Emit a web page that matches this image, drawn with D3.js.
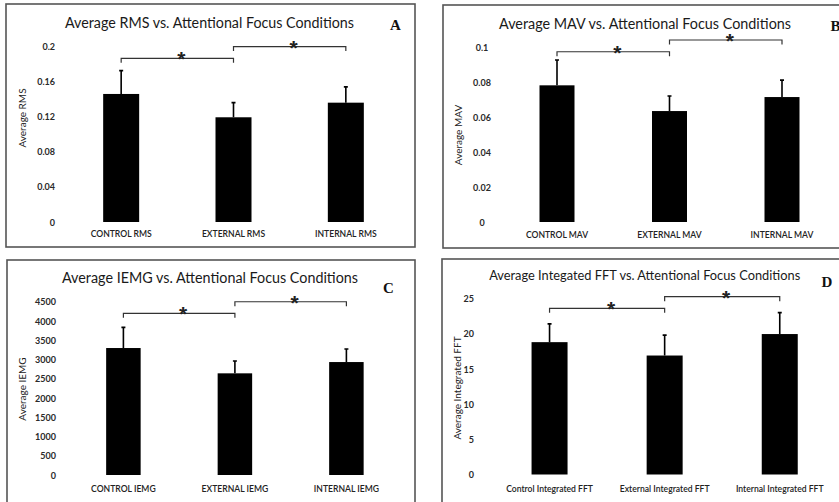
<!DOCTYPE html>
<html>
<head>
<meta charset="utf-8">
<script src="https://cdn.jsdelivr.net/npm/d3@7"></script>
<style>
  html, body { margin: 0; padding: 0; background: #fff; }
  svg { display: block; }
  text { font-family: Lato, "Open Sans", sans-serif; }
</style>
</head>
<body>
<svg id="chart" width="839" height="502"></svg>
<script>
// Data
const rmsLabels = ["CONTROL RMS", "EXTERNAL RMS", "INTERNAL RMS"];
const rmsMeans = [0.1455, 0.119, 0.1356];
const rmsErrors = [0.0265, 0.0166, 0.018];
const rmsTicks = [0, 0.04, 0.08, 0.12, 0.16, 0.2];
const rmsSigLevels = [0.186, 0.1993];

const mavLabels = ["CONTROL MAV", "EXTERNAL MAV", "INTERNAL MAV"];
const mavMeans = [0.0781, 0.0634, 0.0714];
const mavErrors = [0.0145, 0.0086, 0.0097];
const mavTicks = [0, 0.02, 0.04, 0.06, 0.08, 0.1];
const mavSigLevels = [0.0973, 0.104];

const iemgLabels = ["CONTROL IEMG", "EXTERNAL IEMG", "INTERNAL IEMG"];
const iemgMeans = [3297, 2640, 2933];
const iemgErrors = [537, 320, 338];
const iemgTicks = [0, 500, 1000, 1500, 2000, 2500, 3000, 3500, 4000, 4500];
const iemgSigLevels = [4198, 4499];

const fftLabels = ["Control Integrated FFT", "External Integrated FFT", "Internal Integrated FFT"];
const fftMeans = [18.8, 16.9, 19.95];
const fftErrors = [2.6, 2.9, 3.05];
const fftTicks = [0, 5, 10, 15, 20, 25];
const fftSigLevels = [23.6, 25.26];

// Significance brackets: pairs of bar indices
const sigPairs = [[0, 1], [1, 2]];

const panels = [
  {
    letter: "A", title: "Average RMS vs. Attentional Focus Conditions", yTitle: "Average RMS",
    labels: rmsLabels, means: rmsMeans, errors: rmsErrors, ticks: rmsTicks, sig: rmsSigLevels,
    layout: {
      frame: [6, 4, 409, 243], titleXY: [209.5, 28], titleLen: 289, titleSize: 15.5, letterXY: [390, 30],
      xRange: [65, 402], yRange: [222, 46], barW: 36, tickX: 55, tickAnchor: "end",
      yTitleXY: [22, 118], xLabelY: 237
    }
  },
  {
    letter: "B", title: "Average MAV vs. Attentional Focus Conditions", yTitle: "Average MAV",
    labels: mavLabels, means: mavMeans, errors: mavErrors, ticks: mavTicks, sig: mavSigLevels,
    layout: {
      frame: [443, 5, 410, 243], titleXY: [645, 28.5], titleLen: 292, titleSize: 15.5, letterXY: [830.5, 31],
      xRange: [500.75, 838.25], yRange: [222, 47], barW: 35, tickX: 482, tickAnchor: "middle",
      yTitleXY: [458, 135], xLabelY: 237.5
    }
  },
  {
    letter: "C", title: "Average IEMG vs. Attentional Focus Conditions", yTitle: "Average IEMG",
    labels: iemgLabels, means: iemgMeans, errors: iemgErrors, ticks: iemgTicks, sig: iemgSigLevels,
    layout: {
      frame: [7, 260, 408, 260], titleXY: [210, 283], titleLen: 296, titleSize: 15.5, letterXY: [383, 292.5],
      xRange: [67.65, 402.15], yRange: [475, 301.7], barW: 34.5, tickX: 56, tickAnchor: "end",
      yTitleXY: [22, 389], xLabelY: 491.7
    }
  },
  {
    letter: "D", title: "Average Integated FFT vs. Attentional Focus Conditions", yTitle: "Average Integrated FFT",
    labels: fftLabels, means: fftMeans, errors: fftErrors, ticks: fftTicks, sig: fftSigLevels,
    layout: {
      frame: [442, 259, 410, 260], titleXY: [644.7, 280], titleLen: 311, titleSize: 13, letterXY: [821.5, 286.5],
      xRange: [492, 837.3], yRange: [474.5, 298.5], barW: 36, tickX: 474, tickAnchor: "end",
      yTitleXY: [457.5, 388], xLabelY: 491.7
    }
  }
];

const svg = d3.select("#chart");

/**
 * Draws one bar panel with error bars and significance brackets
 */
function renderPanel(p) {
  const L = p.layout;
  const g = svg.append("g").attr("class", "panel panel-" + p.letter);
  const idx = p.labels.map((d, i) => i);

  // Frame
  g.append("rect")
    .attr("x", L.frame[0]).attr("y", L.frame[1])
    .attr("width", L.frame[2]).attr("height", L.frame[3])
    .attr("fill", "none").attr("stroke", "#555").attr("stroke-width", 1.6);

  const x = d3.scalePoint().domain(idx).range(L.xRange).padding(0.5);
  const y = d3.scaleLinear().domain([0, d3.max(p.ticks)]).range(L.yRange);

  // Title and panel letter
  g.append("text")
    .attr("x", L.titleXY[0]).attr("y", L.titleXY[1])
    .attr("text-anchor", "middle")
    .attr("textLength", L.titleLen).attr("lengthAdjust", "spacingAndGlyphs")
    .style("font-size", L.titleSize + "px").style("fill", "#1a1a1a")
    .text(p.title);

  g.append("text")
    .attr("x", L.letterXY[0]).attr("y", L.letterXY[1])
    .style("font-family", "'Liberation Serif', 'DejaVu Serif', serif")
    .style("font-size", "15px").style("font-weight", "700").style("fill", "#111")
    .text(p.letter);

  // Y axis labels (no axis line, as in the figure)
  const yAxis = d3.axisLeft(y).tickValues(p.ticks).tickSize(0).tickFormat(d3.format("~g"));
  const ax = g.append("g").attr("transform", `translate(${L.tickX},0)`).call(yAxis);
  ax.select(".domain").remove();
  ax.selectAll("text")
    .attr("x", 0).attr("dy", "0.35em")
    .attr("text-anchor", L.tickAnchor)
    .style("font-family", "Lato, 'Open Sans', sans-serif")
    .style("font-size", "9px").style("font-weight", "700").style("fill", "#2a2a2a");

  // Y title
  g.append("text")
    .attr("transform", `translate(${L.yTitleXY[0]},${L.yTitleXY[1]}) rotate(-90)`)
    .attr("text-anchor", "middle").attr("dy", "0.35em")
    .style("font-size", "10px").style("fill", "#222")
    .text(p.yTitle);

  // Bars
  g.selectAll("rect.bar").data(idx).join("rect")
    .attr("class", "bar")
    .attr("x", i => x(i) - L.barW / 2)
    .attr("width", L.barW)
    .attr("y", i => y(p.means[i]))
    .attr("height", i => y(0) - y(p.means[i]))
    .attr("fill", "#000");

  // Error bars (upper half only visible)
  const capW = 4;
  g.selectAll("path.err").data(idx).join("path")
    .attr("class", "err")
    .attr("d", i => {
      const cx = x(i), y0 = y(p.means[i]), y1 = y(p.means[i] + p.errors[i]);
      return `M${cx},${y0}V${y1}M${cx - capW / 2},${y1}H${cx + capW / 2}`;
    })
    .attr("fill", "none").attr("stroke", "#000").attr("stroke-width", 1.6);

  // X category labels
  g.selectAll("text.xlab").data(idx).join("text")
    .attr("class", "xlab")
    .attr("x", i => x(i)).attr("y", L.xLabelY)
    .attr("text-anchor", "middle")
    .style("font-size", "8.6px").style("font-weight", "600").style("fill", "#222")
    .text(i => p.labels[i]);

  // Significance brackets
  const tick = 4.5;
  sigPairs.forEach((pair, k) => {
    const x0 = x(pair[0]), x1 = x(pair[1]), yl = y(p.sig[k]);
    g.append("path")
      .attr("d", `M${x0},${yl + tick}V${yl}H${x1}V${yl + tick}`)
      .attr("fill", "none").attr("stroke", "#333").attr("stroke-width", 1.2);
    g.append("text")
      .attr("x", (x0 + x1) / 2 + 4).attr("y", yl + 8)
      .attr("text-anchor", "middle")
      .style("font-family", "'Liberation Sans', Arial, sans-serif")
      .style("font-size", "21px").style("font-weight", "700").style("fill", "#222")
      .text("*");
  });
}

panels.forEach(renderPanel);
</script>
</body>
</html>
